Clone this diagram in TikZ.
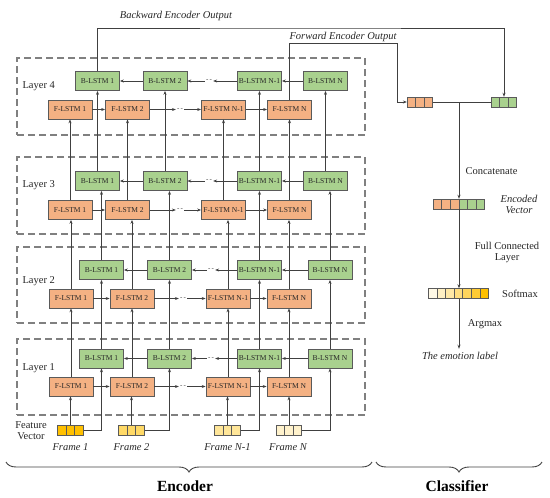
\documentclass[tikz,border=0pt]{standalone}
\usepackage{fontspec}
\setmainfont{Liberation Serif}
\usetikzlibrary{arrows.meta,calc,decorations.pathreplacing}
\definecolor{forange}{HTML}{F4B183}
\definecolor{bgreen}{HTML}{A9D18E}
\definecolor{bordc}{HTML}{5A5A5A}
\definecolor{linec}{HTML}{404040}
\definecolor{dashc}{HTML}{808080}
\definecolor{cfra}{HTML}{FFC000}
\definecolor{cfrb}{HTML}{FFD966}
\definecolor{cfrc}{HTML}{FFE699}
\definecolor{cfrd}{HTML}{FFF2CC}
\definecolor{sma}{HTML}{FFF9E6}
\definecolor{smb}{HTML}{FFF0C4}
\definecolor{smc}{HTML}{FFE8A6}
\definecolor{smd}{HTML}{FFDE80}
\definecolor{sme}{HTML}{FFD55C}
\definecolor{smf}{HTML}{FFCB33}
\definecolor{smg}{HTML}{FFC000}
\newcommand{\drawcells}[5]{%
  \node[vecnode, minimum width=#4*8.6pt] (#1) at (#2,#3) {};
  \foreach \cc [count=\ii from 0] in {#5}{
    \draw[cellline, fill=\cc] ($(#1.west)+(\ii*8.6,-5)$) rectangle ++(8.6,10);
  }
}
\begin{document}
\begin{tikzpicture}[x=1pt,y=-1pt,
  lstmF/.style={draw=bordc, fill=forange, line width=0.7pt, minimum width=44pt, minimum height=19pt, inner sep=0pt, font=\fontsize{7.5}{8}\selectfont, text=black!85},
  lstmB/.style={lstmF, fill=bgreen},
  layerbox/.style={draw=dashc, line width=1.1pt, dash pattern=on 7pt off 4pt, minimum width=348pt, inner sep=0pt},
  conn/.style={draw=linec, line width=0.7pt, -{Stealth[length=4pt,width=3pt]}},
  plain/.style={draw=linec, line width=0.7pt},
  dotsn/.style={font=\fontsize{7}{8}\selectfont, inner sep=1pt, text=linec},
  txt/.style={font=\fontsize{10.5}{12}\selectfont, text=black!85},
  itxt/.style={font=\fontsize{10.5}{12}\selectfont\itshape, text=black!85},
  bigtxt/.style={font=\fontsize{15.5}{18}\selectfont\bfseries, text=black},
  vecnode/.style={minimum height=10pt, inner sep=0pt, draw=none},
  cellline/.style={draw=bordc, line width=0.6pt},
  bracestyle/.style={draw=linec, line width=0.9pt, decorate, decoration={brace, mirror, amplitude=10pt}}
]
\useasboundingbox (0,0) rectangle (550,498);

% layer boxes
\node[layerbox, minimum height=77pt] (L4) at (191,96.5) {};
\node[layerbox, minimum height=77pt] (L3) at (191,195.5) {};
\node[layerbox, minimum height=76pt] (L2) at (191,285) {};
\node[layerbox, minimum height=76pt] (L1) at (191,377) {};
\node[txt, anchor=west] (lab4) at (19,86) {Layer 4};
\node[txt, anchor=west] (lab3) at (19,185) {Layer 3};
\node[txt, anchor=west] (lab2) at (19,281) {Layer 2};
\node[txt, anchor=west] (lab1) at (19,368) {Layer 1};

% layer 4
\node[lstmB] (b1L4) at (97.5,81) {B-LSTM 1};
\node[lstmB] (b2L4) at (165,81) {B-LSTM 2};
\node[lstmB] (bmL4) at (259.5,81) {B-LSTM N-1};
\node[lstmB] (bnL4) at (325.5,81) {B-LSTM N};
\node[lstmF] (f1L4) at (70,109.5) {F-LSTM 1};
\node[lstmF] (f2L4) at (127.5,109.5) {F-LSTM 2};
\node[lstmF] (fmL4) at (223.5,109.5) {F-LSTM N-1};
\node[lstmF] (fnL4) at (289.5,109.5) {F-LSTM N};
\node[dotsn] (dbL4) at (209,81) {-\,-};
\node[dotsn] (dfL4) at (180,109.5) {-\,-};
% layer 3
\node[lstmB] (b1L3) at (97.5,181) {B-LSTM 1};
\node[lstmB] (b2L3) at (165,181) {B-LSTM 2};
\node[lstmB] (bmL3) at (259.5,181) {B-LSTM N-1};
\node[lstmB] (bnL3) at (325.5,181) {B-LSTM N};
\node[lstmF] (f1L3) at (70,210) {F-LSTM 1};
\node[lstmF] (f2L3) at (127.5,210) {F-LSTM 2};
\node[lstmF] (fmL3) at (223.5,210) {F-LSTM N-1};
\node[lstmF] (fnL3) at (289.5,210) {F-LSTM N};
\node[dotsn] (dbL3) at (209,181) {-\,-};
\node[dotsn] (dfL3) at (180,210) {-\,-};
% layer 2
\node[lstmB] (b1L2) at (101.5,270) {B-LSTM 1};
\node[lstmB] (b2L2) at (169.5,270) {B-LSTM 2};
\node[lstmB] (bmL2) at (259.5,270) {B-LSTM N-1};
\node[lstmB] (bnL2) at (330,270) {B-LSTM N};
\node[lstmF] (f1L2) at (71,298.5) {F-LSTM 1};
\node[lstmF] (f2L2) at (132,298.5) {F-LSTM 2};
\node[lstmF] (fmL2) at (228,298.5) {F-LSTM N-1};
\node[lstmF] (fnL2) at (289,298.5) {F-LSTM N};
\node[dotsn] (dbL2) at (211,270) {-\,-};
\node[dotsn] (dfL2) at (183,298.5) {-\,-};
% layer 1
\node[lstmB] (b1L1) at (101.5,358.5) {B-LSTM 1};
\node[lstmB] (b2L1) at (169.5,358.5) {B-LSTM 2};
\node[lstmB] (bmL1) at (259.5,358.5) {B-LSTM N-1};
\node[lstmB] (bnL1) at (330,358.5) {B-LSTM N};
\node[lstmF] (f1L1) at (71,386.5) {F-LSTM 1};
\node[lstmF] (f2L1) at (132,386.5) {F-LSTM 2};
\node[lstmF] (fmL1) at (228,386.5) {F-LSTM N-1};
\node[lstmF] (fnL1) at (289,386.5) {F-LSTM N};
\node[dotsn] (dbL1) at (211,358.5) {-\,-};
\node[dotsn] (dfL1) at (183,386.5) {-\,-};

% within-layer connectors
\foreach \k in {1,2,3,4}{
  \draw[conn] (f1L\k) -- (f2L\k);
  \draw[conn] (f2L\k) -- (dfL\k);
  \draw[conn] (dfL\k) -- (fmL\k);
  \draw[conn] (fmL\k) -- (fnL\k);
  \draw[conn] (bnL\k) -- (bmL\k);
  \draw[conn] (bmL\k) -- (dbL\k);
  \draw[conn] (dbL\k) -- (b2L\k);
  \draw[conn] (b2L\k) -- (b1L\k);
}
% between layers
\foreach \k [evaluate=\k as \m using int(\k+1)] in {1,2,3}{
  \foreach \n in {f1,f2,fm,fn,b1,b2,bm,bn}{
    \draw[conn] (\n L\k.north) -- (\n L\k.north |- \n L\m.south);
  }
}

% feature vectors
\drawcells{fv1}{70.5}{430.5}{3}{cfra,cfra,cfra}
\drawcells{fv2}{131.5}{430.5}{3}{cfrb,cfrb,cfrb}
\drawcells{fvm}{227.5}{430.5}{3}{cfrc,cfrc,cfrc}
\drawcells{fvn}{289}{430.5}{3}{cfrd,cfrd,cfrd}
\draw[conn] (fv1.north) -- (fv1.north |- f1L1.south);
\draw[conn] (fv2.north) -- (fv2.north |- f2L1.south);
\draw[conn] (fvm.north) -- (fvm.north |- fmL1.south);
\draw[conn] (fvn.north) -- (fvn.north |- fnL1.south);
\draw[conn] (fv1.east) -| (b1L1.south);
\draw[conn] (fv2.east) -| (b2L1.south);
\draw[conn] (fvm.east) -| (bmL1.south);
\draw[conn] (fvn.east) -| (bnL1.south);
\node[itxt] (frl1) at (70.5,447) {Frame 1};
\node[itxt] (frl2) at (131.5,447) {Frame 2};
\node[itxt] (frlm) at (227.5,447) {Frame N-1};
\node[itxt] (frln) at (288,447) {Frame N};
\node[txt, align=center] (featl) at (31,431) {Feature\\[-1pt]Vector};

% classifier
\drawcells{ovec}{420}{102}{3}{forange,forange,forange}
\drawcells{gvec}{504}{102}{3}{bgreen,bgreen,bgreen}
\drawcells{encv}{459}{204}{6}{forange,forange,forange,bgreen,bgreen,bgreen}
\drawcells{softv}{458.5}{293.5}{7}{sma,smb,smc,smd,sme,smf,smg}
\coordinate (bwc) at (300,28);
\coordinate (fwc) at (397,43);
\draw[conn] (b1L4.north) |- (bwc) -| (gvec.north);
\draw[conn] (fnL4.north) |- (fwc) |- (ovec.west);
\node[itxt] (bwl) at (176,16) {Backward Encoder Output};
\node[itxt] (fwl) at (343,37) {Forward Encoder Output};
\draw[plain] (ovec.east) -- (gvec.west);
\draw[conn] (encv.north |- ovec.east) -- (encv.north);
\node[txt, anchor=west] (catl) at (462,171) {Concatenate};
\node[itxt, align=center] (encl) at (519,204) {Encoded\\[-1pt]Vector};
\draw[conn] (encv.south) -- (encv.south |- softv.north);
\node[txt, align=center] (fcl) at (507,252) {Full Connected\\[-1pt]Layer};
\node[txt] (sml) at (520,294) {Softmax};
\node[itxt] (emo) at (460,356) {The emotion label};
\draw[conn] (encv.south |- softv.south) -- (encv.south |- emo.north);
\node[txt] (argl) at (485,324) {Argmax};

% braces
\draw[bracestyle] (6,462) -- (372,462);
\draw[bracestyle] (376,462) -- (542,462);
\node[bigtxt] (encl2) at (185,486) {Encoder};
\node[bigtxt] (clsl) at (457,486) {Classifier};
\end{tikzpicture}
\end{document}
